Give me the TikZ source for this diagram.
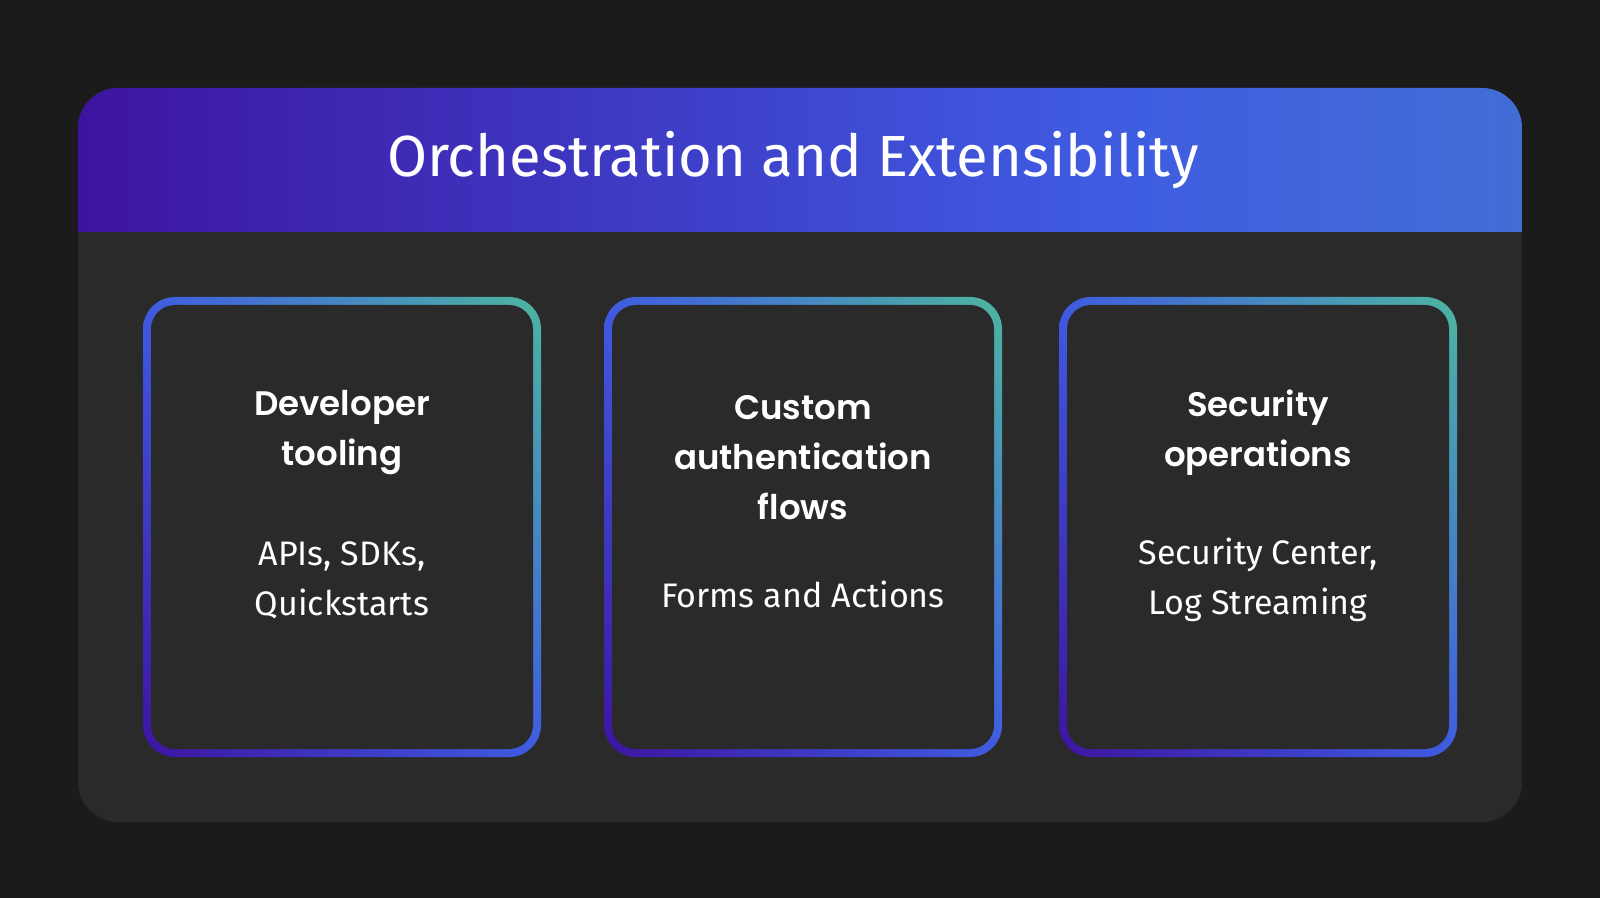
\documentclass[tikz,border=0pt]{standalone}
\usepackage{fontspec}
\usetikzlibrary{shadings}
\setmainfont{Fira Sans}
\newfontfamily\headfont{Poppins}[BoldFont={* SemiBold}]
\definecolor{bgc}{HTML}{1B1B1B}
\definecolor{panelc}{HTML}{2A2A2A}
\definecolor{purp}{HTML}{3D14A0}
\definecolor{blu}{HTML}{3F5BE2}
\definecolor{teal}{HTML}{4DB5A0}
\pgfdeclarehorizontalshading{hdr}{100bp}{color(0bp)=(purp);color(25bp)=(purp);color(60bp)=(blu);color(75bp)=(blu!80!teal);color(100bp)=(teal)}
\tikzset{
  cardtitle/.style={text=white,font=\headfont\bfseries\fontsize{17}{25}\selectfont,align=center},
  cardbody/.style={text=white,font=\fontsize{17}{25}\selectfont,align=center},
}
\begin{document}
\begin{tikzpicture}[x=0.5pt,y=-0.5pt]
\fill[bgc] (0,0) rectangle (1600,898);
\useasboundingbox (0,0) rectangle (1600,898);
\fill[panelc,rounded corners=20pt] (78,88) rectangle (1522,822);
\begin{scope}
\clip[rounded corners=20pt] (78,88) rectangle (1522,822);
\shade[shading=hdr] (78,88) rectangle (1522,232);
\end{scope}
\node[text=white,font=\fontsize{29}{34}\selectfont] (title) at (793,160) {Orchestration and Extensibility};
\foreach \i/\xa in {1/143,2/604,3/1059}{
  \shade[rounded corners=16pt,upper left=blu,upper right=teal,lower left=purp,lower right=blu]
    (\xa,297) rectangle ({\xa+398},757);
  \fill[panelc,rounded corners=12pt] ({\xa+8},305) rectangle ({\xa+390},749);
  \coordinate (c\i) at ({\xa+199},0);
}
\node[cardtitle] (t1) at (c1 |- 0,433) {Developer\\tooling};
\node[cardbody] (b1) at (c1 |- 0,580) {APIs, SDKs,\\Quickstarts};
\node[cardtitle] (t2) at (c2 |- 0,458) {Custom\\authentication\\flows};
\node[cardbody] (b2) at (c2 |- 0,594) {Forms and Actions};
\node[cardtitle] (t3) at (c3 |- 0,433) {Security\\operations};
\node[cardbody] (b3) at (c3 |- 0,580) {Security Center,\\Log Streaming};
\end{tikzpicture}
\end{document}
